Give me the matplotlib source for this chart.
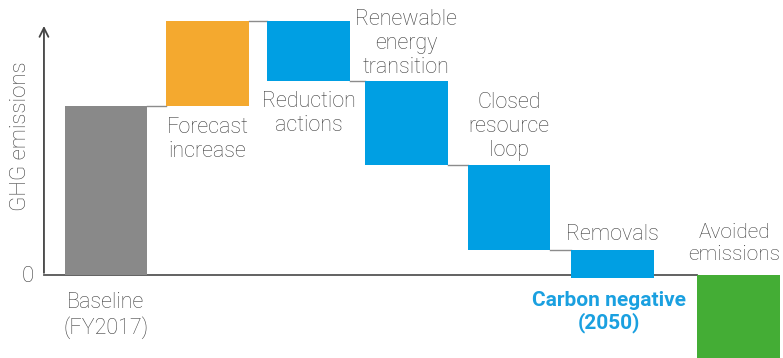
import matplotlib.pyplot as plt

# Waterfall data (baseline = 100)
steps = ["Baseline\n(FY2017)", "Forecast\nincrease", "Reduction\nactions",
         "Renewable\nenergy\ntransition", "Closed\nresource\nloop", "Removals",
         "Avoided\nemissions"]
changes = [100, 50, -35.5, -49.4, -50.4, -16.6, -60]
colors = ["#898989", "#F4A92F", "#009FE3", "#009FE3", "#009FE3", "#009FE3", "#44AD35"]

xpos = [0, 1, 1.995, 2.96, 3.97, 4.99, 6.23]
width = 0.815
text_col = "#404040"

plt.rcParams["font.family"] = ["Roboto", "DejaVu Sans"]

fig = plt.figure(figsize=(7.83, 3.58), dpi=100)
ax = fig.add_axes([0, 0, 1, 1])
ax.set_xlim(-1.044, 6.67)
ax.set_ylim(-49.1, 162.7)
ax.axis("off")

# bars: running level
level = 0
tops = []
for i, ch in enumerate(changes):
    if i == 0 or i == len(changes) - 1:
        bottom = 0
    else:
        bottom = level
    ax.bar(xpos[i], ch, width, bottom=bottom, color=colors[i], zorder=3)
    level = bottom + ch if i < len(changes) - 1 else level
    tops.append(bottom + ch)

# connectors between consecutive bars
for i in range(len(changes) - 2):
    ax.plot([xpos[i] + width / 2, xpos[i + 1] - width / 2], [tops[i], tops[i]],
            color="#8c8c8c", lw=1, zorder=2)

# axes lines
x_ax = -0.611
ax.plot([x_ax, xpos[-1] - width / 2], [0, 0], color="#555555", lw=1.3, zorder=2)
ax.annotate("", xy=(x_ax, 149), xytext=(x_ax, -0.4),
            arrowprops=dict(arrowstyle="->", lw=1.3, color="#444444", mutation_scale=16))
ax.text(x_ax - 0.1, -1, "0", ha="right", va="center", fontsize=16, color=text_col,
        fontweight="light")
ax.text(-0.84, 82, "GHG emissions", rotation=90, ha="center", va="center", fontsize=16,
        color=text_col, fontweight="light")

# labels
label_x = xpos[:6] + [6.19]
label_y = [-10, 93.5, 108.9, 157.5, 108.3, 30.2, 30.8]
label_fs = [15.5, 15.5, 15.5, 15.5, 15.5, 15.5, 15]
for i, lab in enumerate(steps):
    ax.text(label_x[i], label_y[i], lab, ha="center", va="top", fontsize=label_fs[i],
            color=text_col, fontweight="light", linespacing=1.18)

ax.text(xpos[5] - 0.03, -9.5, "Carbon negative\n(2050)", ha="center", va="top",
        fontsize=15, color="#1AA0E0", fontweight="bold", linespacing=1.15)

fig.savefig("out.png", dpi=100)
